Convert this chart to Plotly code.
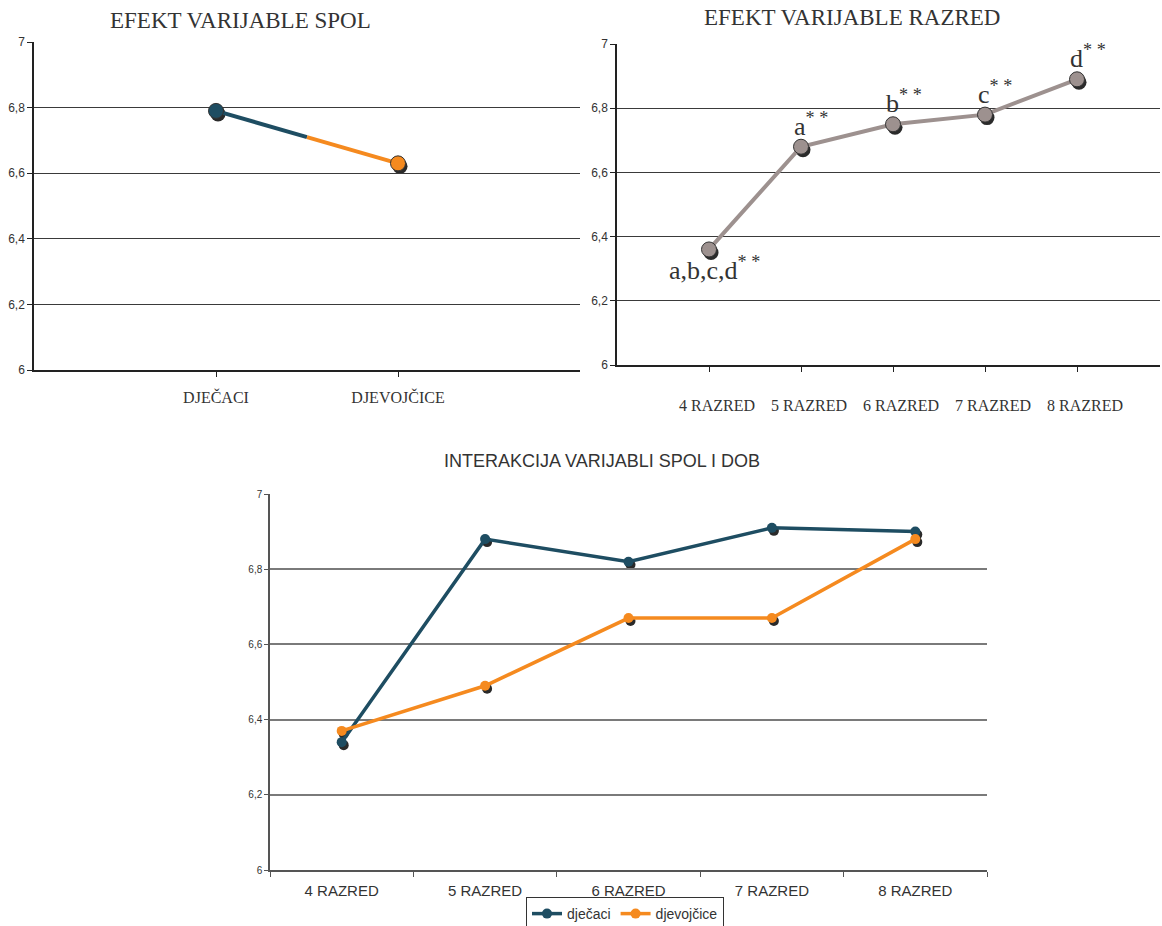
import plotly.graph_objects as go

W, H = 1162, 926

# ---------------- data ----------------
spol_cat = ["DJEČACI", "DJEVOJČICE"]
spol_val = [6.79, 6.63]

razred_cat = ["4 RAZRED", "5 RAZRED", "6 RAZRED", "7 RAZRED", "8 RAZRED"]
razred_val = [6.36, 6.68, 6.75, 6.78, 6.89]
razred_sig = ["a,b,c,d", "a", "b", "c", "d"]

djecaci = [6.34, 6.88, 6.82, 6.91, 6.90]
djevojcice = [6.37, 6.49, 6.67, 6.67, 6.88]

y_vals = [6, 6.2, 6.4, 6.6, 6.8, 7]
y_text = ["6", "6,2", "6,4", "6,6", "6,8", "7"]

BLUE = "#1e4d62"
ORANGE = "#f58a1f"
GREYLINE = "#9d918f"
SHADOW = "#2a2a2a"

SERIF = "Liberation Serif, Times New Roman, serif"
SANS = "Liberation Sans, Arial, sans-serif"
NARROW = "Liberation Sans Narrow, Arial Narrow, Liberation Sans, sans-serif"


def dx(a, b):
    return [a / W, min(b / W, 1.0)]


def dy(top, bottom):
    return [1 - bottom / H, 1 - top / H]


fig = go.Figure()

SH_X, SH_Y = 2, 3

idx_tl = list(range(len(spol_cat)))
idx_tr = list(range(len(razred_cat)))

# --- shadows (own subplots, drawn first, offset a couple of px) ---
fig.add_trace(go.Scatter(x=idx_tl, y=spol_val, mode="markers", xaxis="x", yaxis="y",
                         marker=dict(size=15, color=SHADOW), showlegend=False, hoverinfo="skip"))
fig.add_trace(go.Scatter(x=idx_tr, y=razred_val, mode="markers", xaxis="x2", yaxis="y2",
                         marker=dict(size=15, color=SHADOW), showlegend=False, hoverinfo="skip"))
fig.add_trace(go.Scatter(x=razred_cat, y=djecaci, mode="markers", xaxis="x3", yaxis="y3",
                         marker=dict(size=10, color=SHADOW), showlegend=False, hoverinfo="skip"))
fig.add_trace(go.Scatter(x=razred_cat, y=djevojcice, mode="markers", xaxis="x3", yaxis="y3",
                         marker=dict(size=10, color=SHADOW), showlegend=False, hoverinfo="skip"))

# --- top-left: spol effect, line changes colour at midpoint ---
mid_x = (idx_tl[0] + idx_tl[1]) / 2
mid_y = (spol_val[0] + spol_val[1]) / 2
fig.add_trace(go.Scatter(x=[idx_tl[0], mid_x], y=[spol_val[0], mid_y], mode="lines",
                         xaxis="x4", yaxis="y4", line=dict(color=BLUE, width=4),
                         showlegend=False, hoverinfo="skip"))
fig.add_trace(go.Scatter(x=[mid_x, idx_tl[1]], y=[mid_y, spol_val[1]], mode="lines",
                         xaxis="x4", yaxis="y4", line=dict(color=ORANGE, width=4),
                         showlegend=False, hoverinfo="skip"))
fig.add_trace(go.Scatter(x=idx_tl, y=spol_val, mode="markers", xaxis="x4", yaxis="y4",
                         marker=dict(size=15, color=[BLUE, ORANGE], line=dict(color="#333", width=1)),
                         showlegend=False))

# --- top-right: razred effect ---
fig.add_trace(go.Scatter(x=idx_tr, y=razred_val, mode="lines+markers", xaxis="x5", yaxis="y5",
                         line=dict(color=GREYLINE, width=4),
                         marker=dict(size=15, color=GREYLINE, line=dict(color="#333", width=1)),
                         showlegend=False))

# --- bottom: interaction ---
fig.add_trace(go.Scatter(x=razred_cat, y=djecaci, mode="lines+markers", name="dječaci",
                         xaxis="x6", yaxis="y6", line=dict(color=BLUE, width=3.5),
                         marker=dict(size=10, color=BLUE)))
fig.add_trace(go.Scatter(x=razred_cat, y=djevojcice, mode="lines+markers", name="djevojčice",
                         xaxis="x6", yaxis="y6", line=dict(color=ORANGE, width=3.5),
                         marker=dict(size=10, color=ORANGE)))

TL = dict(x=(34, 580), y=(42, 370))
TR = dict(x=(617, 1160), y=(44, 365))
BT = dict(x=(270, 987), y=(494, 870))

tl_range = [-1, 2]
tr_range = [-1, -1 + (TR["x"][1] - TR["x"][0]) / 92.0]
bt_range = [-0.5, 4.5]


def hidden_axes(box, xr):
    xa = dict(domain=dx(box["x"][0] + SH_X, box["x"][1] + SH_X), range=xr, visible=False, fixedrange=True)
    ya = dict(domain=dy(box["y"][0] + SH_Y, box["y"][1] + SH_Y), range=[6, 7], visible=False, fixedrange=True)
    return xa, ya


xa1, ya1 = hidden_axes(TL, tl_range)
xa2, ya2 = hidden_axes(TR, tr_range)
xa3, ya3 = hidden_axes(BT, bt_range)
ya1["anchor"] = "x"; xa1["anchor"] = "y"
ya2["anchor"] = "x2"; xa2["anchor"] = "y2"
ya3["anchor"] = "x3"; xa3["anchor"] = "y3"

top_y = dict(range=[6, 7], tickmode="array", tickvals=y_vals, ticktext=y_text,
             showgrid=True, gridcolor="#3a3a3a", gridwidth=1,
             showline=True, linecolor="#222", linewidth=1.5,
             ticks="outside", ticklen=5, tickcolor="#222",
             tickfont=dict(family=SANS, size=12, color="#333"), fixedrange=True, zeroline=False)

fig.update_layout(
    width=W, height=H,
    margin=dict(l=0, r=0, t=0, b=0, autoexpand=False),
    paper_bgcolor="white", plot_bgcolor="rgba(0,0,0,0)",
    xaxis=xa1, yaxis=ya1, xaxis2=xa2, yaxis2=ya2, xaxis3=xa3, yaxis3=ya3,
    xaxis4=dict(domain=dx(*TL["x"]), anchor="y4", range=tl_range,
                tickmode="array", tickvals=idx_tl, ticktext=spol_cat,
                showgrid=False, zeroline=False, showline=True, linecolor="#222", linewidth=1.5,
                ticks="outside", ticklen=5, tickcolor="#222", ticklabelstandoff=7,
                tickfont=dict(family=SERIF, size=16, color="#333"), fixedrange=True),
    yaxis4=dict(domain=dy(*TL["y"]), anchor="x4", **top_y),
    xaxis5=dict(domain=dx(*TR["x"]), anchor="y5", range=tr_range,
                tickmode="array", tickvals=idx_tr, ticktext=razred_cat,
                showgrid=False, zeroline=False, showline=True, linecolor="#222", linewidth=1.5,
                ticks="outside", ticklen=5, tickcolor="#222", ticklabelstandoff=20,
                ticklabelshift=8,
                tickfont=dict(family=SERIF, size=16, color="#333"), fixedrange=True),
    yaxis5=dict(domain=dy(*TR["y"]), anchor="x5", **top_y),
    xaxis6=dict(domain=dx(*BT["x"]), anchor="y6", type="category", range=bt_range,
                tickson="boundaries", showgrid=False, zeroline=False,
                showline=True, linecolor="#555", linewidth=1.5,
                ticks="outside", ticklen=5, tickcolor="#555", ticklabelstandoff=6,
                tickfont=dict(family=NARROW, size=15, color="#333"), fixedrange=True),
    yaxis6=dict(domain=dy(*BT["y"]), anchor="x6", range=[6, 7], tickmode="array",
                tickvals=y_vals, ticktext=y_text, showgrid=True, gridcolor="#7a7a7a", gridwidth=1.5,
                showline=True, linecolor="#555", linewidth=1.5, zeroline=False,
                ticks="outside", ticklen=4, tickcolor="#555",
                tickfont=dict(family=NARROW, size=10, color="#333"), fixedrange=True),
    showlegend=True,
    legend=dict(orientation="h", x=625 / W, xanchor="center", y=1 - 914 / H, yanchor="middle",
                bordercolor="#333", borderwidth=1, bgcolor="white",
                font=dict(family=NARROW, size=14, color="#333"),
                itemwidth=30, tracegroupgap=0),
)

anns = [
    dict(text="EFEKT VARIJABLE SPOL", x=240 / W, y=1 - 20 / H, xref="paper", yref="paper",
         xanchor="center", yanchor="middle", showarrow=False,
         font=dict(family=SERIF, size=23, color="#333")),
    dict(text="EFEKT VARIJABLE RAZRED", x=852 / W, y=1 - 17 / H, xref="paper", yref="paper",
         xanchor="center", yanchor="middle", showarrow=False,
         font=dict(family=SERIF, size=23, color="#333")),
    dict(text="INTERAKCIJA VARIJABLI SPOL I DOB", x=602 / W, y=1 - 461 / H, xref="paper", yref="paper",
         xanchor="center", yanchor="middle", showarrow=False,
         font=dict(family=NARROW, size=18, color="#333")),
]

for i, (lab, v) in enumerate(zip(razred_sig, razred_val)):
    txt = lab + "<sup>* *</sup>"
    if i == 0:
        anns.append(dict(text=txt, x=i, y=v, xref="x5", yref="y5", showarrow=False,
                         xanchor="left", yanchor="top", xshift=-42, yshift=-1,
                         font=dict(family=SERIF, size=26, color="#333")))
    else:
        anns.append(dict(text=txt, x=i, y=v, xref="x5", yref="y5", showarrow=False,
                         xanchor="left", yanchor="bottom", xshift=-9, yshift=4,
                         font=dict(family=SERIF, size=26, color="#333")))

fig.update_layout(annotations=anns)

fig.write_html("out.html", config={"displayModeBar": False},
               post_script="document.body.style.margin='0px';")
